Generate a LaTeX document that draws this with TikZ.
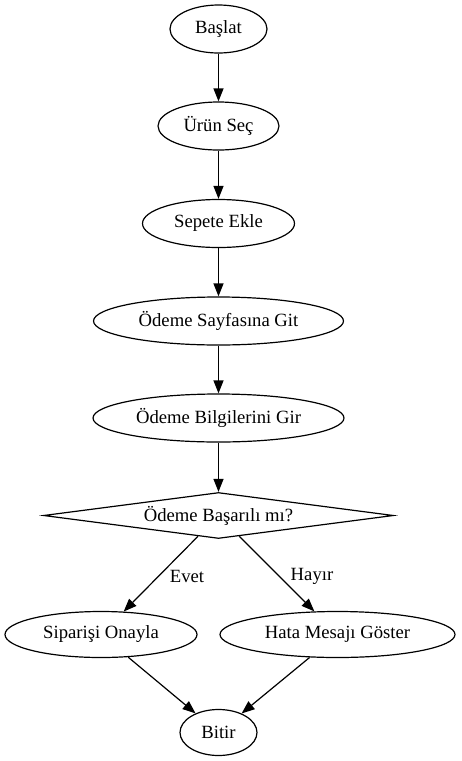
\documentclass[tikz,border=0pt]{standalone}
\usepackage{fontspec}
\setmainfont{Liberation Serif}
\usetikzlibrary{shapes.geometric,arrows.meta}
\tikzset{
  every node/.style={font=\fontsize{18.67}{22}\selectfont},
  oval/.style={ellipse, draw, line width=1.2pt, inner sep=0pt, minimum height=48pt},
  decision/.style={diamond, draw, line width=1.2pt, inner sep=0pt, aspect=7.5, minimum width=350pt, minimum height=46pt},
  flow/.style={draw, line width=1.2pt, -{Triangle[length=13pt,width=10pt]}},
  lbl/.style={inner sep=0pt}
}
\begin{document}
\begin{tikzpicture}[x=1pt,y=-1pt]
\useasboundingbox (0,0) rectangle (461,761);
\node[oval, minimum width=97pt] (basla) at (218.5,29) {Başlat};
\node[oval, minimum width=121pt] (urun) at (218.5,126) {Ürün Seç};
\node[oval, minimum width=152pt] (sepet) at (218.5,223.5) {Sepete Ekle};
\node[oval, minimum width=250pt] (sayfa) at (218.5,321) {Ödeme Sayfasına Git};
\node[oval, minimum width=251pt] (bilgi) at (218.5,418) {Ödeme Bilgilerini Gir};
\node[decision] (karar) at (218.5,515.5) {Ödeme Başarılı mı?};
\node[oval, minimum width=192pt, minimum height=46pt] (onay) at (101,634.5) {Siparişi Onayla};
\node[oval, minimum width=235pt, minimum height=46pt] (hata) at (337.5,634.5) {Hata Mesajı Göster};
\node[oval, minimum width=77pt, minimum height=46pt] (bitir) at (218.5,732.5) {Bitir};
\node[lbl] (evet) at (187,576) {Evet};
\node[lbl] (hayir) at (312,576) {Hayır};
\draw[flow] (basla) -- (urun);
\draw[flow] (urun) -- (sepet);
\draw[flow] (sepet) -- (sayfa);
\draw[flow] (sayfa) -- (bilgi);
\draw[flow] (bilgi) -- (karar);
\draw[flow] (karar) -- (onay);
\draw[flow] (karar) -- (hata);
\draw[flow] (onay) -- (bitir);
\draw[flow] (hata) -- (bitir);
\end{tikzpicture}
\end{document}
